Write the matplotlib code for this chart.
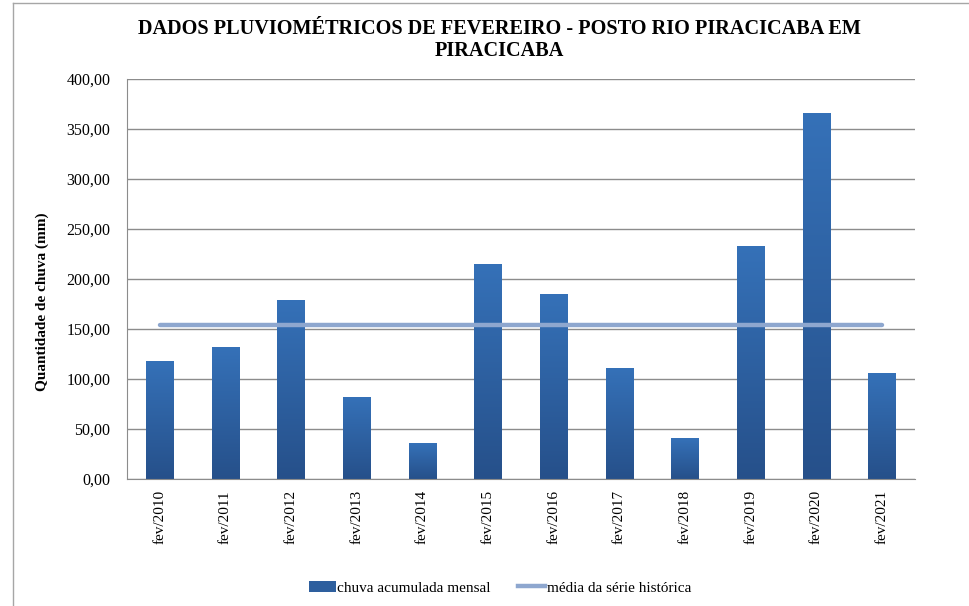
import numpy as np
import matplotlib.pyplot as plt
from matplotlib.lines import Line2D
from matplotlib.patches import Patch
from matplotlib.colors import LinearSegmentedColormap

plt.rcParams['font.family'] = ['Liberation Serif', 'DejaVu Serif']

categories = ["fev/2010", "fev/2011", "fev/2012", "fev/2013", "fev/2014", "fev/2015",
              "fev/2016", "fev/2017", "fev/2018", "fev/2019", "fev/2020", "fev/2021"]
chuva = [118, 132, 179, 82, 36, 215, 185, 111, 41, 233, 366, 106]
media = 154
yticks = [0, 50, 100, 150, 200, 250, 300, 350, 400]

fig = plt.figure(figsize=(9.69, 6.06), dpi=100)
ax = fig.add_axes([127/969, 1-479/606, (915-127)/969, 400/606])

x = np.arange(len(categories))
bars = ax.bar(x, chuva, width=0.42, color="#2E5F9E", zorder=2)

# vertical gradient inside each bar
grad_cmap = LinearSegmentedColormap.from_list("g", ["#26508A", "#3571B8"])
grad = np.linspace(0, 1, 256).reshape(-1, 1)
for b in bars:
    bx, by = b.get_x(), b.get_y()
    w, h = b.get_width(), b.get_height()
    im = ax.imshow(grad, cmap=grad_cmap, origin="lower", aspect="auto",
                   extent=(bx, bx + w, by, by + h), zorder=2.5)
    im.set_clip_path(b)

ax.plot([x[0], x[-1]], [media, media], color="#8EA7CF", lw=3.2,
        solid_capstyle="round", zorder=3)

ax.set_xlim(-0.5, len(categories) - 0.5)
ax.set_ylim(0, 400)
ax.set_yticks(yticks)
ax.set_yticklabels([f"{v:.2f}".replace(".", ",") for v in yticks], fontsize=11.5)
ax.set_xticks(x)
ax.set_xticklabels(categories, rotation=90, fontsize=11)
ax.tick_params(axis="both", length=0, pad=8)
ax.tick_params(axis="y", pad=12)
ax.grid(axis="y", color="#8C8C8C", lw=1, zorder=1)
ax.set_axisbelow(True)
for s in ["top", "right"]:
    ax.spines[s].set_visible(False)
ax.spines["left"].set_color("#8C8C8C")
ax.spines["bottom"].set_color("#8C8C8C")

ax.set_ylabel("Quantidade de chuva (mm)", fontsize=11, fontweight="bold")
ax.yaxis.set_label_coords(-0.099, 0.4425)
fig.text(0.515, 0.968, "DADOS PLUVIOMÉTRICOS DE FEVEREIRO - POSTO RIO PIRACICABA EM\nPIRACICABA",
         ha="center", va="top", fontsize=14.6, fontweight="bold", linespacing=1.1)

handles = [Patch(facecolor="#2E5F9E", edgecolor="none"),
           Line2D([], [], color="#8EA7CF", lw=3.2)]
fig.legend(handles, ["chuva acumulada mensal", "média da série histórica"],
           loc="center", bbox_to_anchor=(0.516, 0.03), ncol=2, frameon=False,
           fontsize=11, handlelength=1.75, handletextpad=0.1, columnspacing=1.8)

# chart frame (left and top edges visible)
fig.add_artist(Line2D([13/969, 13/969], [0, 1-3/606], color="#A6A6A6", lw=1))
fig.add_artist(Line2D([13/969, 1], [1-3/606, 1-3/606], color="#A6A6A6", lw=1))

fig.savefig("out.png", dpi=100)
